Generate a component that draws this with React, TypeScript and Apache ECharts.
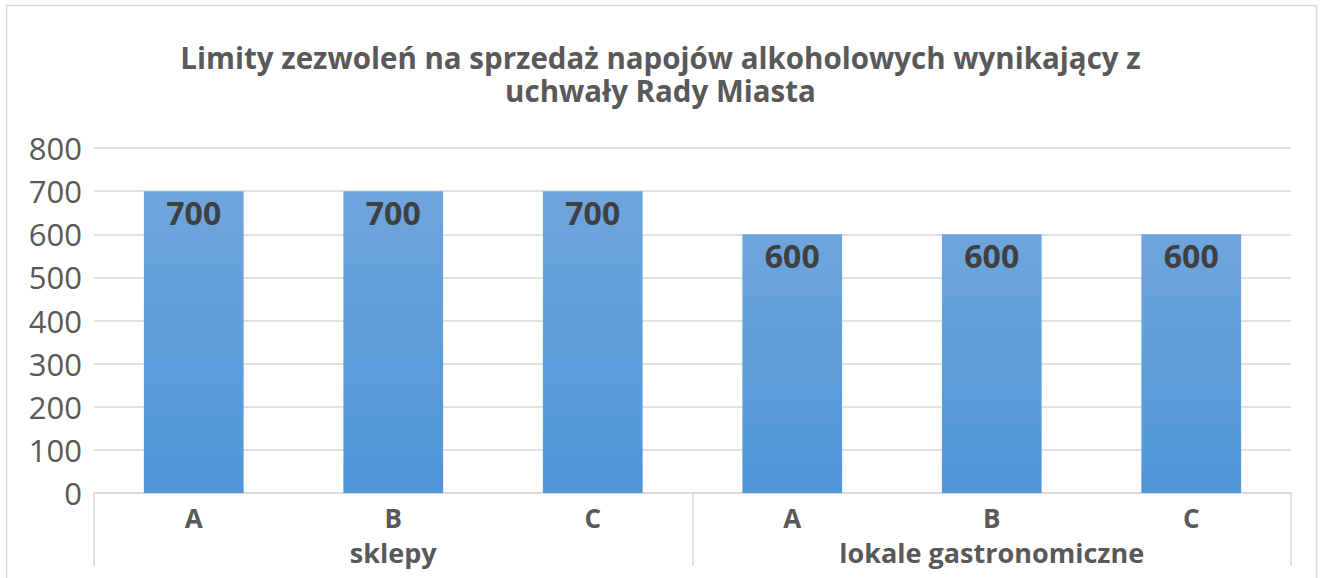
import React, { useEffect, useRef } from "react";
import * as echarts from "echarts";

const titleLines = [
  "Limity zezwoleń na sprzedaż napojów alkoholowych wynikający z",
  "uchwały Rady Miasta",
];
const subCategories = ["A", "B", "C", "A", "B", "C"];
const groupCategories = ["sklepy", "lokale gastronomiczne"];
const values = [700, 700, 700, 600, 600, 600];
const yTicks = { min: 0, max: 800, interval: 100 };

const FONT = "'Open Sans', sans-serif";

export default function App() {
  const ref = useRef<HTMLDivElement>(null);
  useEffect(() => {
    if (!ref.current) return;
    const chart = echarts.init(ref.current, null, { renderer: "svg" });
    chart.setOption({
      animation: false,
      backgroundColor: "#ffffff",
      title: titleLines.map((t, i) => ({
        text: t,
        left: "center",
        top: 42 + i * 33,
        padding: 0,
        textStyle: {
          fontFamily: FONT,
          fontSize: 29.5,
          fontWeight: "bold",
          color: "#595959",
          lineHeight: 30,
        },
      })),
      graphic: [
        {
          type: "rect",
          shape: { x: 6.5, y: 5.5, width: 1310, height: 620 },
          style: { fill: "none", stroke: "#d9d9d9", lineWidth: 1.5 },
          silent: true,
        },
      ],
      grid: { left: 94, right: 30, top: 148, bottom: 85 },
      xAxis: [
        {
          type: "category",
          data: subCategories,
          position: "bottom",
          axisLine: { show: true, lineStyle: { color: "#d9d9d9", width: 1.5 } },
          axisTick: { show: false },
          axisLabel: {
            margin: 12,
            fontFamily: FONT,
            fontSize: 26,
            lineHeight: 26,
            fontWeight: "bold",
            color: "#595959",
          },
        },
        {
          type: "category",
          data: groupCategories,
          position: "bottom",
          axisLine: { show: false },
          axisTick: {
            show: true,
            length: 73,
            inside: false,
            lineStyle: { color: "#d9d9d9", width: 1.5 },
          },
          axisLabel: {
            margin: 46,
            fontFamily: FONT,
            fontSize: 27,
            lineHeight: 27,
            fontWeight: "bold",
            color: "#595959",
          },
        },
      ],
      yAxis: {
        type: "value",
        min: yTicks.min,
        max: yTicks.max,
        interval: yTicks.interval,
        axisLine: { show: false },
        axisTick: { show: false },
        splitLine: { lineStyle: { color: "#d9d9d9", width: 1.5 } },
        axisLabel: {
          margin: 12,
          fontFamily: FONT,
          fontSize: 31,
          color: "#595959",
        },
      },
      series: [
        {
          type: "bar",
          data: values,
          xAxisIndex: 0,
          barWidth: "50%",
          itemStyle: {
            color: new echarts.graphic.LinearGradient(0, 0, 0, 1, [
              { offset: 0, color: "#6fa5dc" },
              { offset: 1, color: "#4f96d8" },
            ]),
          },
          label: {
            show: true,
            position: "insideTop",
            distance: 5,
            fontFamily: FONT,
            fontSize: 32,
            fontWeight: "bold",
            color: "#404040",
          },
        },
      ],
    });
    return () => chart.dispose();
  }, []);
  return (
    <div
      ref={ref}
      style={{ position: "fixed", left: 0, top: 0, width: 1321, height: 578 }}
    />
  );
}
